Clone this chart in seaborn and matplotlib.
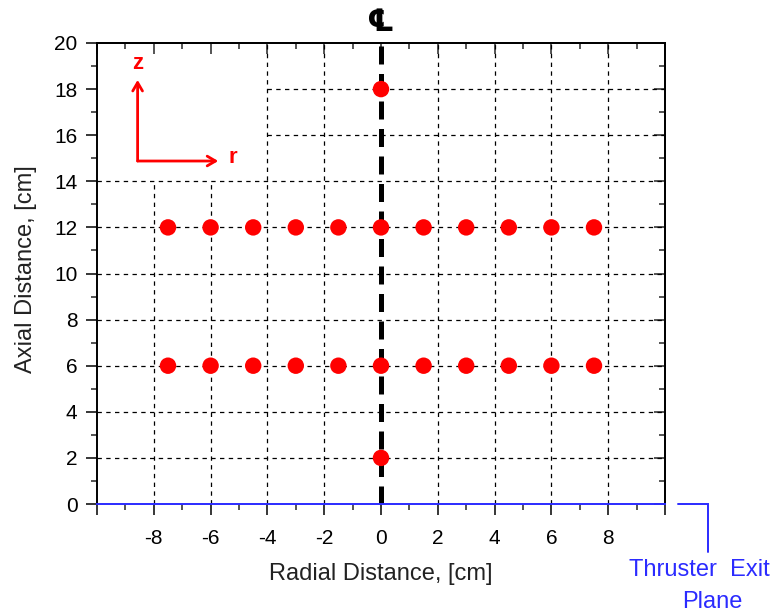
import matplotlib
matplotlib.use("Agg")
import matplotlib.pyplot as plt
import seaborn as sns
import pandas as pd
import numpy as np

# ---------------- data ----------------
radial_positions = [-7.5, -6, -4.5, -3, -1.5, 0, 1.5, 3, 4.5, 6, 7.5]   # cm
axial_rows = [6, 12]                                                   # cm
centerline_axial = [2, 18]                                             # extra points on r = 0

x_major = [-10, -8, -6, -4, -2, 0, 2, 4, 6, 8, 10]
x_labels = ["", "-8", "-6", "-4", "-2", "0", "2", "4", "6", "8", ""]
x_minor = [-9, -7, -5, -3, -1, 1, 3, 5, 7, 9]
y_major = [0, 2, 4, 6, 8, 10, 12, 14, 16, 18, 20]
y_labels = ["0", "2", "4", "6", "8", "10", "12", "14", "16", "18", "20"]
y_minor = [1, 3, 5, 7, 9, 11, 13, 15, 17, 19]

x_title = "Radial Distance, [cm]"
y_title = "Axial Distance, [cm]"
plane_label_1 = "Thruster  Exit"
plane_label_2 = "Plane"

rows = []
for z in axial_rows:
    for r in radial_positions:
        rows.append({"r": r, "z": z})
for z in centerline_axial:
    rows.append({"r": 0, "z": z})
df = pd.DataFrame(rows)

# ---------------- style ----------------
sns.set_style("ticks")
plt.rcParams["font.family"] = ["Liberation Sans", "DejaVu Sans"]

RED = "#ff0000"
BLUE = "#2b2bff"

fig = plt.figure(figsize=(7.74, 6.15), dpi=100)
ax = fig.add_axes([97 / 774, 1 - 504 / 615, 568 / 774, 461 / 615])

ax.set_xlim(-10, 10)
ax.set_ylim(0, 20)

# partial dashed grid (top-left corner kept blank for the r/z sketch)
blank_x = (-10, -4)
blank_y = (14, 20)
grid_kw = dict(color="black", lw=0.9, linestyle=(0, (3.5, 3.5)), zorder=1)
for xv in x_major:
    if xv in (-10, 10, 0):
        continue
    top = blank_y[0] if blank_x[0] < xv < blank_x[1] else 20
    ax.vlines(xv, 0, top, **grid_kw)
for yv in y_major:
    if yv in (0, 20):
        continue
    left = blank_x[1] if blank_y[0] < yv < blank_y[1] else -10
    ax.hlines(yv, left, 10, **grid_kw)

# centre line
ax.axvline(0, color="black", lw=3.6, linestyle=(0, (3.6, 1.9)), zorder=2)

# measurement points
sns.scatterplot(data=df, x="r", y="z", ax=ax, color=RED, s=140,
                edgecolor="none", linewidth=0, zorder=3, legend=False)

# ticks
ax.set_xticks(x_major)
ax.set_xticklabels(x_labels)
ax.set_xticks(x_minor, minor=True)
ax.set_yticks(y_major)
ax.set_yticklabels(y_labels)
ax.set_yticks(y_minor, minor=True)
ax.tick_params(which="major", direction="out", length=8, width=1.1,
               labelsize=15, colors="black", pad=6)
ax.tick_params(which="minor", direction="out", length=4, width=1.1)
ax.tick_params(axis="x", pad=10)

for side in ("top", "right", "left"):
    ax.spines[side].set_visible(True)
    ax.spines[side].set_color("black")
    ax.spines[side].set_linewidth(1.4)
ax.spines["bottom"].set_color(BLUE)
ax.spines["bottom"].set_linewidth(1.4)
ax.spines["bottom"].set_zorder(4)

secx = ax.secondary_xaxis("top")
secx.set_xticks(x_major)
secx.set_xticks(x_minor, minor=True)
secx.tick_params(which="major", direction="in", length=8, width=1.1, labeltop=False)
secx.tick_params(which="minor", direction="in", length=4, width=1.1)
secx.spines["top"].set_linewidth(1.4)
secy = ax.secondary_yaxis("right")
secy.set_yticks(y_major)
secy.set_yticks(y_minor, minor=True)
secy.tick_params(which="major", direction="in", length=8, width=1.1, labelright=False)
secy.tick_params(which="minor", direction="in", length=4, width=1.1)
secy.spines["right"].set_linewidth(1.4)

ax.set_xlabel(x_title, fontsize=17, color="#222222", labelpad=11)
ax.set_ylabel(y_title, fontsize=17, color="#222222")
ax.yaxis.set_label_coords(-0.105, 0.509)

# r / z coordinate sketch
ox, oy = -8.57, 14.88
arrow_kw = dict(arrowstyle="->,head_length=0.6,head_width=0.35", color=RED, lw=2.0,
                shrinkA=0, shrinkB=0)
ax.annotate("", xy=(ox, 18.4), xytext=(ox, oy), arrowprops=arrow_kw, zorder=5)
ax.annotate("", xy=(-5.73, oy), xytext=(ox, oy), arrowprops=arrow_kw, zorder=5)
ax.text(ox, 19.1, "z", color=RED, fontsize=16, fontweight="bold", ha="center", va="center")
ax.text(-5.22, 15.05, "r", color=RED, fontsize=16, fontweight="bold", ha="center", va="center")

# centre line symbol
fig.text(380 / 774, 1 - 22 / 615, "\u2104", fontsize=22, fontweight="bold",
         ha="center", va="center", color="black",
         family=["Noto Sans CJK SC", "DejaVu Sans"])

# thruster exit plane leader
ax.plot([10.45, 11.5, 11.5], [0, 0, -2.08], color=BLUE, lw=1.4, clip_on=False,
        solid_joinstyle="miter")
fig.text(699 / 774, 1 - 570 / 615, plane_label_1, color=BLUE, fontsize=17,
         ha="center", va="center")
fig.text(712 / 774, 1 - 602 / 615, plane_label_2, color=BLUE, fontsize=17,
         ha="center", va="center")

fig.savefig("out.png", dpi=100)
